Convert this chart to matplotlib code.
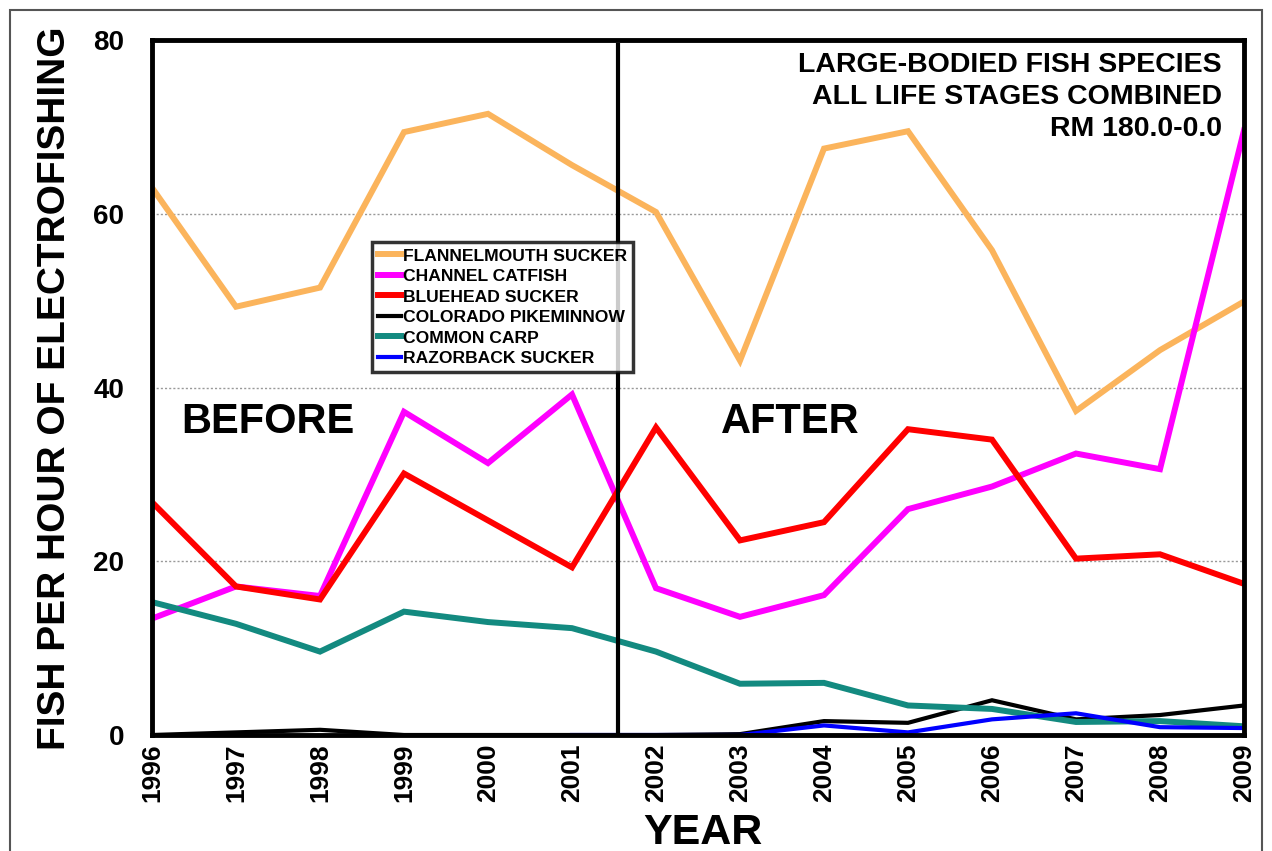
import numpy as np
import matplotlib
matplotlib.use('Agg')
import matplotlib.pyplot as plt
from matplotlib.patches import Rectangle

plt.rcParams['font.family'] = ['Liberation Sans', 'DejaVu Sans']
plt.rcParams['font.weight'] = 'bold'

years = [1996, 1997, 1998, 1999, 2000, 2001, 2002, 2003, 2004, 2005, 2006, 2007, 2008, 2009]

flannelmouth = [63.0, 49.3, 51.5, 69.4, 71.5, 65.6, 60.2, 43.1, 67.5, 69.5, 55.8, 37.3, 44.3, 49.9]
catfish = [13.4, 17.1, 16.0, 37.2, 31.3, 39.2, 16.9, 13.6, 16.1, 26.0, 28.6, 32.4, 30.6, 69.6]
bluehead = [26.8, 17.1, 15.6, 30.1, 24.7, 19.3, 35.4, 22.4, 24.5, 35.2, 34.0, 20.3, 20.8, 17.4]
pikeminnow = [0.0, 0.3, 0.6, 0.0, 0.0, 0.0, 0.0, 0.1, 1.6, 1.4, 4.0, 1.8, 2.3, 3.4]
carp = [15.3, 12.8, 9.6, 14.2, 13.0, 12.3, 9.6, 5.9, 6.0, 3.4, 3.0, 1.5, 1.6, 1.0]
razorback = [np.nan, np.nan, np.nan, np.nan, np.nan, 0.0, 0.0, 0.0, 1.1, 0.3, 1.8, 2.5, 0.9, 0.8]

series_names = ['FLANNELMOUTH SUCKER', 'CHANNEL CATFISH', 'BLUEHEAD SUCKER',
                'COLORADO PIKEMINNOW', 'COMMON CARP', 'RAZORBACK SUCKER']
series_colors = ['#FBB45C', '#FF00FF', '#FF0000', '#000000', '#138A80', '#0000FF']
series_widths = [4.3, 4.3, 4.3, 3.0, 4.3, 3.0]

fig = plt.figure(figsize=(12.72, 8.51), dpi=100)
ax = fig.add_axes([152/1272, 1-735/851, (1244-152)/1272, (735-40)/851])

# grey outer frame
fig.patches.append(Rectangle((10/1272, -0.02), 1252/1272, 1-10/851+0.02,
                             transform=fig.transFigure, fill=False,
                             edgecolor='#555555', linewidth=1.5))

data = [flannelmouth, catfish, bluehead, pikeminnow, carp, razorback]
handles = []
for vals, name, col, lw in zip(data, series_names, series_colors, series_widths):
    h, = ax.plot(years, vals, color=col, linewidth=lw, label=name,
                 solid_joinstyle='miter', zorder=3)
    handles.append(h)

ax.axvline(2001.55, ymin=0, ymax=0.993, color='black', linewidth=3, zorder=4)

ax.set_xlim(1996, 2009)
ax.set_ylim(0, 80)
ax.set_yticks([0, 20, 40, 60, 80])
ax.set_xticks(years)
ax.set_xticklabels([str(y) for y in years], rotation=90, fontsize=19, fontweight='bold')
ax.set_yticklabels(['0', '20', '40', '60', '80'], fontsize=20, fontweight='bold')
ax.tick_params(axis='y', length=0, pad=20)
ax.tick_params(axis='x', length=0, pad=6)

for y in [20, 40, 60]:
    ax.axhline(y, color='#999999', linewidth=1, linestyle=(0, (1.5, 1.5)), zorder=1)

for s in ax.spines.values():
    s.set_linewidth(3.5)
    s.set_zorder(5)

ax.text(1997.38, 36.0, 'BEFORE', fontsize=30, fontweight='bold', ha='center', va='center')
ax.text(2003.6, 36.0, 'AFTER', fontsize=30, fontweight='bold', ha='center', va='center')

fig.text(1222/1272, 1-52/851,
         'LARGE-BODIED FISH SPECIES\nALL LIFE STAGES COMBINED\nRM 180.0-0.0',
         fontsize=20.5, fontweight='bold', ha='right', va='top', multialignment='right',
         linespacing=1.3)

fig.text(55/1272, 1-388/851, 'FISH PER HOUR OF ELECTROFISHING', rotation=90,
         fontsize=28, fontweight='bold', ha='center', va='center')
fig.text(703/1272, 1-833/851, 'YEAR', fontsize=31, fontweight='bold',
         ha='center', va='center')

leg = ax.legend(handles=handles, loc='upper left', bbox_to_anchor=(0.2015, 0.709),
                borderaxespad=0, frameon=True, fancybox=False,
                edgecolor='black', handlelength=1.3, handletextpad=0.1,
                labelspacing=0.3, borderpad=0.35, prop={'weight': 'bold', 'size': 12.6})
leg.get_frame().set_linewidth(2.5)
leg.set_zorder(10)

fig.savefig('out.png', dpi=100, facecolor='white')
